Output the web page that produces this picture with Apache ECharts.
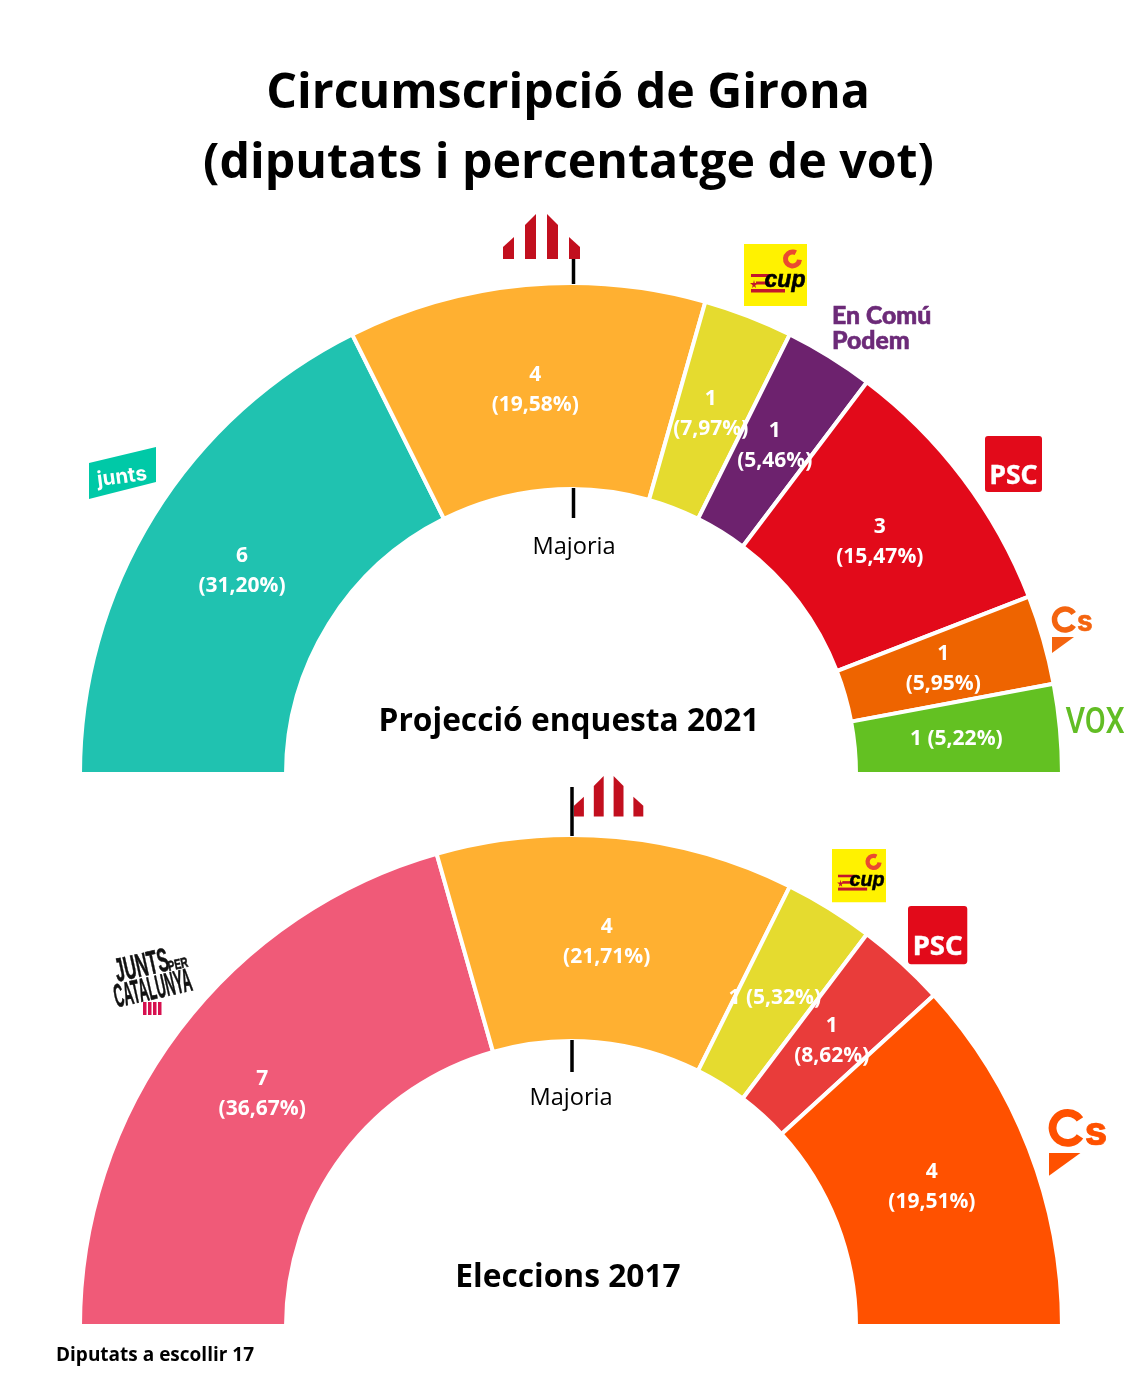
<!DOCTYPE html>
<html>
<head>
	<meta charset="utf-8">
	<title>Circumscripció de Girona</title>
	<style>
		html,body{margin:0;padding:0;background:#fff;}
		#chart{width:1140px;height:1390px;}
	</style>
	<script src="https://cdn.jsdelivr.net/npm/echarts@6/dist/echarts.min.js"></script>
</head>
<body>
	<div id="chart"></div>
	<script>
		var FONT = '"Open Sans", "Noto Sans", sans-serif';

		// Projecció enquesta 2021
		var parties2021 = ['Junts', 'ERC', 'CUP', 'En Comú Podem', 'PSC', 'Cs', 'VOX'];
		var seats2021 = [6, 4, 1, 1, 3, 1, 1];
		var pct2021 = ['31,20', '19,58', '7,97', '5,46', '15,47', '5,95', '5,22'];
		var colors2021 = ['#20c2b0', '#ffb031', '#e5db2f', '#6d226e', '#e20a1a', '#ee6400', '#63c122'];
		var oneLine2021 = ['VOX'];

		// Eleccions 2017
		var parties2017 = ['JxCat', 'ERC', 'CUP', 'PSC', 'Cs'];
		var seats2017 = [7, 4, 1, 1, 4];
		var pct2017 = ['36,67', '21,71', '5,32', '8,62', '19,51'];
		var colors2017 = ['#f05a78', '#ffb031', '#e5db2f', '#e93c3a', '#ff5100'];
		var oneLine2017 = ['CUP'];

		function pieSeries(cy, parties, seats, pct, colors, oneLine) {
			var total = 0, done = 0, data = [];
			seats.forEach(function (s) { total += s; });
			for (var i = 0; i < parties.length; i++) {
				var sep = oneLine.indexOf(parties[i]) >= 0 ? ' ' : '\n';
				// labels sit a little inside the middle of the ring
				var mid = (done + seats[i] / 2) / total * Math.PI;
				done += seats[i];
				data.push({
					name: parties[i],
					value: seats[i],
					itemStyle: {color: colors[i]},
					label: {
						formatter: seats[i] + sep + '(' + pct[i] + '%)',
						offset: [Math.cos(mid) * 4, Math.sin(mid) * 4 + 1]
					}
				});
			}
			return {
				type: 'pie',
				center: [571, cy],
				radius: [285, 491],
				startAngle: 180,
				endAngle: 360,
				clockwise: true,
				silent: true,
				animation: false,
				avoidLabelOverlap: false,
				labelLayout: {hideOverlap: false},
				itemStyle: {borderColor: '#fff', borderWidth: 4},
				label: {
					show: true,
					position: 'inside',
					color: '#fff',
					fontFamily: FONT,
					fontWeight: 'bold',
					fontSize: 21,
					lineHeight: 30
				},
				labelLine: {show: false},
				data: data
			};
		}

		function txt(x, y, text, size, color, weight, align) {
			return {
				type: 'text', x: x, y: y, z: 10,
				style: {
					text: text, fill: color,
					font: (weight || 'normal') + ' ' + size + 'px ' + FONT,
					align: align || 'center', verticalAlign: 'middle'
				}
			};
		}
		function poly(points, color) {
			return {type: 'polygon', z: 10, shape: {points: points}, style: {fill: color}};
		}
		function line(x, y1, y2) {
			return {type: 'line', z: 10, shape: {x1: x, y1: y1, x2: x, y2: y2}, style: {stroke: '#000', lineWidth: 3.5}};
		}
		function group(x, y, s, children) {
			return {type: 'group', x: x, y: y, scaleX: s, scaleY: s, children: children};
		}

		// logos: simple redraws, coordinates are relative to each logo's corner
		function ercLogo(x, y, s) {
			var c = '#c20f1e';
			return group(x, y, s, [
				poly([[0, 33], [11, 23], [11, 45], [0, 45]], c),
				poly([[22, 11], [33, 0], [33, 45], [22, 45]], c),
				poly([[44, 0], [55, 11], [55, 45], [44, 45]], c),
				poly([[66, 23], [77, 33], [77, 45], [66, 45]], c)
			]);
		}
		function cupLogo(x, y, s) {
			return group(x, y, s, [
				{type: 'rect', z: 10, shape: {x: 0, y: 0, width: 63, height: 62}, style: {fill: '#fff200'}},
				{type: 'arc', z: 11, shape: {cx: 48.5, cy: 15, r: 7, startAngle: 0.1, endAngle: 5.2, clockwise: true},
					style: {stroke: '#ea4a30', lineWidth: 5, fill: null}},
				{type: 'rect', z: 11, shape: {x: 7, y: 30, width: 20, height: 3}, style: {fill: '#c3162c'}},
				{type: 'rect', z: 11, shape: {x: 12, y: 37.5, width: 14, height: 3}, style: {fill: '#c3162c'}},
				{type: 'rect', z: 11, shape: {x: 7, y: 45, width: 34, height: 3.5}, style: {fill: '#c3162c'}},
				poly([[6, 39], [14, 39], [8, 44], [10, 36], [12, 44]], '#c3162c'),
				{type: 'text', z: 12, x: 41, y: 37, style: {text: 'cup', fill: '#000', stroke: '#000', lineWidth: 0.6,
					font: 'italic bold 23px "Liberation Sans", sans-serif', align: 'center', verticalAlign: 'middle'}}
			]);
		}
		function pscLogo(x, y, s) {
			return group(x, y, s, [
				{type: 'rect', z: 10, shape: {x: 0, y: 0, width: 57, height: 56, r: 3}, style: {fill: '#e20a1a'}},
				{type: 'text', z: 11, x: 28.5, y: 40, style: {text: 'PSC', fill: '#fff', stroke: '#fff', lineWidth: 0.4,
					font: 'bold 26.5px "Noto Sans", sans-serif', align: 'center', verticalAlign: 'middle'}}
			]);
		}
		function csLogo(x, y, s, color) {
			return group(x, y, s, [
				{type: 'arc', z: 10, shape: {cx: 13, cy: 12.5, r: 10.5, startAngle: 0.6, endAngle: 5.68, clockwise: true},
					style: {stroke: color, lineWidth: 5.5, fill: null}},
				{type: 'text', z: 10, x: 25, y: 16, style: {text: 's', fill: color, stroke: color, lineWidth: 0.5,
					font: 'bold 28px Inter, sans-serif', align: 'left', verticalAlign: 'middle'}},
				poly([[0, 30], [22, 30], [0, 46]], color)
			]);
		}
		function jpcText(x, y, text, size, sx) {
			return {type: 'text', z: 10, x: x, y: y, rotation: 0.22, scaleX: sx, style: {text: text, fill: '#111',
				stroke: '#111', lineWidth: 0.6,
				font: 'bold ' + size + 'px "Liberation Sans", sans-serif', align: 'center', verticalAlign: 'middle'}};
		}
		function jpcBar(x) {
			return {type: 'rect', z: 10, shape: {x: x, y: 1002, width: 3.5, height: 13}, style: {fill: '#d6104f'}};
		}

		var graphics = [
			txt(568, 94, 'Circumscripció de Girona', 48.3, '#000', 'bold'),
			txt(568.5, 164, '(diputats i percentatge de vot)', 48.3, '#000', 'bold'),

			line(573.5, 258, 284), line(573.5, 488, 518),
			line(572, 787, 836), line(572, 1040, 1072),
			txt(574, 547, 'Majoria', 23.6, '#000'),
			txt(571, 1098, 'Majoria', 23.6, '#000'),

			txt(569, 722, 'Projecció enquesta 2021', 31.7, '#000', 'bold'),
			txt(568, 1278, 'Eleccions 2017', 31.7, '#000', 'bold'),
			txt(56, 1356, 'Diputats a escollir 17', 19, '#000', 'bold', 'left'),

			ercLogo(503, 214, 1),
			ercLogo(574, 776, 0.9),
			cupLogo(744, 244, 1),
			cupLogo(832, 849, 0.857),
			pscLogo(985, 436, 1),
			pscLogo(908, 906, 1.04),
			csLogo(1052, 607, 1, '#f4640f'),
			csLogo(1049, 1110, 1.43, '#ff5100'),

			{type: 'text', z: 10, x: 832, y: 316, style: {text: 'En Comú', fill: '#6c2a78', stroke: '#6c2a78', lineWidth: 0.6,
				font: '900 24.8px Lato, sans-serif', align: 'left', verticalAlign: 'middle'}},
			{type: 'text', z: 10, x: 832, y: 341, style: {text: 'Podem', fill: '#6c2a78', stroke: '#6c2a78', lineWidth: 0.6,
				font: '900 24.8px Lato, sans-serif', align: 'left', verticalAlign: 'middle'}},

			{type: 'text', z: 10, x: 1095, y: 724, scaleX: 0.95, scaleY: 1.15, style: {text: 'VOX', fill: '#62bd24',
				font: '500 32px Roboto, sans-serif', align: 'center', verticalAlign: 'middle'}},

			poly([[89, 463], [156, 447], [156, 482], [89, 499]], '#00c9a7'),
			{type: 'text', z: 11, x: 122, y: 477, rotation: 0.13, style: {text: 'junts', fill: '#fff',
				font: 'bold 20.5px Inter, sans-serif', align: 'center', verticalAlign: 'middle'}},

			jpcText(142, 967, 'JUNTS', 33, 0.5),
			jpcText(178, 965, 'PER', 14, 0.7),
			jpcText(153, 990, 'CATALUNYA', 33, 0.4),
			jpcBar(143), jpcBar(148), jpcBar(153), jpcBar(158)
		];

		var chart = echarts.init(document.getElementById('chart'));
		chart.setOption({
			backgroundColor: '#fff',
			animation: false,
			series: [
				pieSeries(774, parties2021, seats2021, pct2021, colors2021, oneLine2021),
				pieSeries(1326, parties2017, seats2017, pct2017, colors2017, oneLine2017)
			],
			graphic: {elements: graphics}
		});
	</script>
</body>
</html>
